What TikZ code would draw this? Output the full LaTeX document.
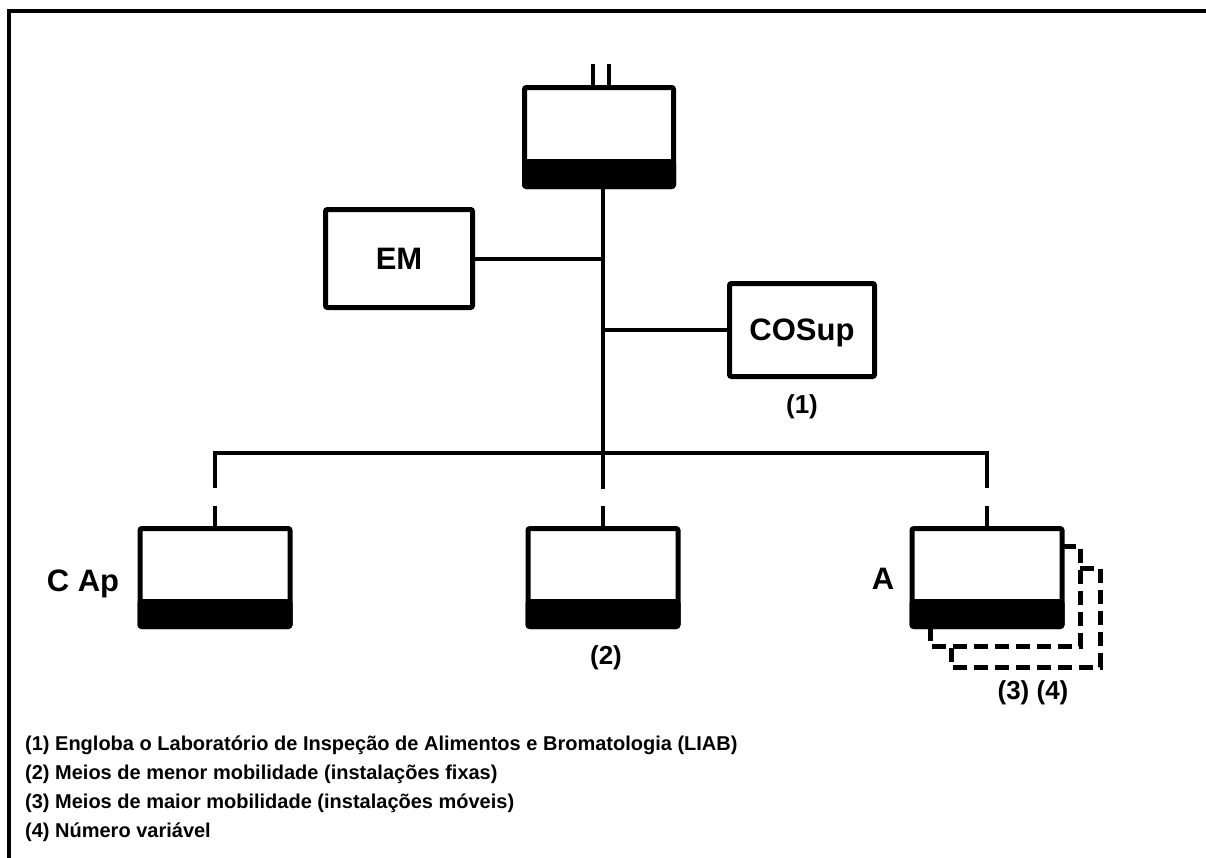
\documentclass[tikz,border=0pt]{standalone}
\usepackage{fontspec}
\setmainfont{Liberation Sans}
\usetikzlibrary{calc}
\tikzset{
  frame/.style={line width=4pt},
  box/.style={draw, line width=5pt, fill=white, rounded corners=2pt,
    inner sep=0pt, outer sep=0pt, text depth=0pt},
  band/.style={fill=black, draw=black, line width=5pt, rounded corners=2pt},
  link/.style={line width=4pt},
  tick/.style={line width=4.5pt},
  shadowline/.style={line width=5pt, dash pattern=on 14pt off 7pt},
  big/.style={font=\bfseries\fontsize{31}{36}\selectfont},
  small/.style={font=\bfseries\fontsize{26}{30}\selectfont, inner sep=0pt},
  note/.style={font=\bfseries\fontsize{20}{24}\selectfont, anchor=west, inner sep=0pt},
  lowbox/.style={box, minimum width=150pt, minimum height=98pt},
}
\begin{document}
\begin{tikzpicture}[x=1pt,y=-1pt]
\useasboundingbox (0,0) rectangle (1206,857);
\clip (0,0) rectangle (1206,857);

% open frame (top and left sides)
\draw[frame] (9,860) -- (9,11) -- (1210,11);

% headquarters box with its black base band
\node[box, minimum width=149pt, minimum height=99pt] (hq) at (599,137) {};
\path[band] (hq.south west) rectangle ([yshift=25pt]hq.south east);

% echelon marks above the headquarters
\coordinate (ii1) at (593,64);
\coordinate (ii2) at (609,64);
\draw[tick] (ii1) -- (ii1 |- hq.north);
\draw[tick] (ii2) -- (ii2 |- hq.north);

% staff boxes
\node[box, big, minimum width=147pt, minimum height=98pt] (em) at (399,258.5) {EM};
\node[box, big, minimum width=145pt, minimum height=93pt] (cos) at (802,330) {COSup};
\node[small] (n1) at (802,407) {(1)};

% trunk, branches and distribution bar
\coordinate (tk) at (603,453);
\coordinate (tkend) at (603,489);
\coordinate (bl) at (215,488);
\coordinate (br) at (987,488);
\draw[link] (hq.south -| tk) -- (tkend);
\draw[link] (em.east) -- (em.east -| tk);
\draw[link] (cos.west) -- (cos.west -| tk);
\draw[link] (bl) |- (tk) -| (br);

% stacked copies behind the right unit
\draw[shadowline] (1062,546) -- (1080,546) -- (1080,646) -- (930,646) -- (930,629);
\draw[shadowline] (1080,568) -- (1100,568) -- (1100,667) -- (951,667) -- (951,647);

% subordinate units
\node[lowbox] (cap) at (215,577.5) {};
\path[band] (cap.south west) rectangle ([yshift=25pt]cap.south east);
\node[lowbox] (mid) at (603,577.5) {};
\path[band] (mid.south west) rectangle ([yshift=25pt]mid.south east);
\node[lowbox] (a) at (987,577.5) {};
\path[band] (a.south west) rectangle ([yshift=25pt]a.south east);

\draw[link] (cap.north) -- ++(0,-23);
\draw[link] (mid.north) -- ++(0,-23);
\draw[link] (a.north) -- ++(0,-23);

\node[big] (caplbl) at (83,584) {C Ap};
\node[big] (albl) at (883,579) {A};
\node[small] (n2) at (606,658) {(2)};
\node[small] (n34) at (1033,693) {(3) (4)};

% notes
\node[note] (fn1) at (25,745) {(1) Engloba o Laboratório de Inspeção de Alimentos e Bromatologia (LIAB)};
\node[note] (fn2) at (25,774) {(2) Meios de menor mobilidade (instalações fixas)};
\node[note] (fn3) at (25,803) {(3) Meios de maior mobilidade (instalações móveis)};
\node[note] (fn4) at (25,832) {(4) Número variável};
\end{tikzpicture}
\end{document}
